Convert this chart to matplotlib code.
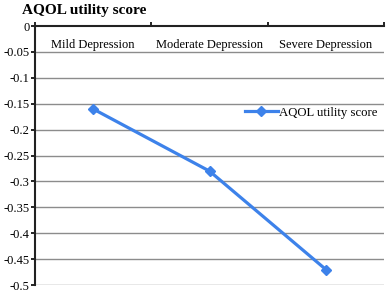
import numpy as np
import matplotlib.pyplot as plt

# Datos del grafico
categorias = ["Mild Depression", "Moderate Depression", "Severe Depression"]
puntajes = [-0.16, -0.28, -0.47]
etiqueta_serie = "AQOL utility score"
ticks_y = np.round(np.arange(0, -0.5001, -0.05), 2)

plt.rcParams['font.family'] = ['Liberation Serif', 'DejaVu Serif']

fig = plt.figure(figsize=(3.88, 2.93), dpi=100)
ax = fig.add_axes([0.090, 0.027, 0.900, 0.884])

x = np.arange(len(categorias))
ax.plot(x, puntajes, color='#3d82ea', linewidth=2.3, marker='D', markersize=5.5,
        label=etiqueta_serie, zorder=3)

ax.set_xlim(-0.5, len(categorias) - 0.5)
ax.set_ylim(-0.5, 0)

# eje y
ax.set_yticks(ticks_y)
ax.set_yticklabels(["0" if v == 0 else ("%g" % v) for v in ticks_y], fontsize=9)
ax.tick_params(axis='y', direction='out', length=3, width=1.2, pad=1)
for v in ticks_y[1:]:
    ax.axhline(v, color='#8c8c8c', linewidth=1, zorder=1)

# eje x arriba, etiquetas dentro
ax.set_xticks(x)
ax.set_xticklabels(categorias, fontsize=9)
ax.set_xticks(np.arange(-0.5, len(categorias)), minor=True)
ax.tick_params(axis='x', which='major', top=True, labeltop=True, bottom=False,
               labelbottom=False, length=0, pad=-18)
ax.tick_params(axis='x', which='minor', top=True, bottom=False, direction='out',
               length=3, width=1.2)

for lado in ['right', 'bottom']:
    ax.spines[lado].set_visible(False)
ax.spines['left'].set_linewidth(1.5)
ax.spines['top'].set_linewidth(1.5)
ax.spines['left'].set_color('#222222')
ax.spines['top'].set_color('#222222')

ax.legend(loc='center right', bbox_to_anchor=(1.015, 0.665), frameon=False,
          fontsize=9.2, handlelength=2.6, handletextpad=0.1)

fig.text(0.057, 0.965, "AQOL utility score", fontsize=11, fontweight='bold',
         va='center', ha='left')

fig.savefig("out.png", dpi=100)
